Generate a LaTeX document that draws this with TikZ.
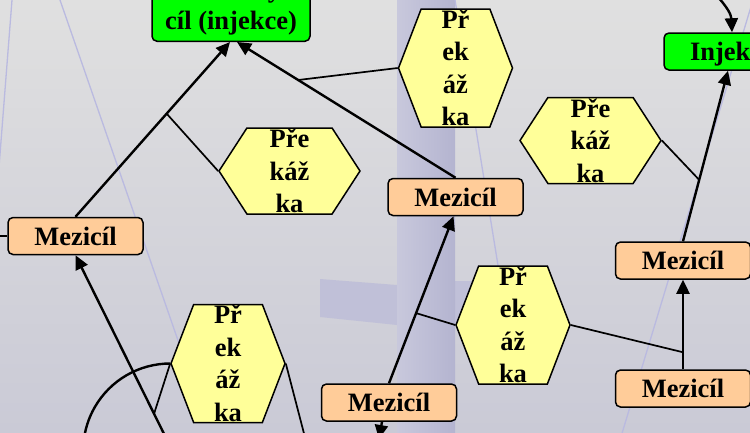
\documentclass[tikz,border=0pt]{standalone}
\usepackage{fontspec}
\setmainfont{Liberation Serif}
\usetikzlibrary{arrows.meta,shapes.symbols}
\definecolor{goalgreen}{RGB}{0, 255, 0}
\definecolor{subgoalpeach}{RGB}{255, 204, 153}
\definecolor{obstacleyellow}{RGB}{255, 255, 153}
\definecolor{bgtop}{RGB}{224, 224, 224}
\definecolor{bgbottom}{RGB}{202, 202, 214}
\definecolor{bandleft}{RGB}{200, 200, 220}
\definecolor{bandright}{RGB}{180, 180, 208}
\definecolor{bandarm}{RGB}{192, 192, 216}
\definecolor{bgstroke}{RGB}{186, 186, 224}
\tikzset{
  boxnode/.style={draw=black, line width=1.5pt, rounded corners=5pt, align=center, font=\fontsize{26.5}{32.5}\selectfont\bfseries},
  goalbox/.style={boxnode, fill=goalgreen, inner sep=6pt, minimum width=158pt},
  subgoal/.style={boxnode, fill=subgoalpeach, inner sep=0pt, minimum width=135pt, minimum height=37pt},
  obstacle/.style={draw=black, line width=1.5pt, fill=obstacleyellow, shape=signal, signal to=east and west, inner sep=0pt, align=center, font=\fontsize{26.5}{32.5}\selectfont\bfseries},
  obstacletall/.style={obstacle, signal pointer angle=138, minimum width=114pt, minimum height=118pt},
  obstaclewide/.style={obstacle, signal pointer angle=114, minimum width=141pt, minimum height=86pt},
  arrow/.style={line width=2.4pt, -{Triangle[length=14pt, width=13pt]}},
  link/.style={line width=1.7pt},
  bgline/.style={draw=bgstroke, line width=1.3pt}
}

\begin{document}
\begin{tikzpicture}[x=1pt, y=-1pt]
  \useasboundingbox (0,0) rectangle (750,432);
  \clip (0,0) rectangle (750,432);
  % background
  \shade [top color=bgtop, bottom color=bgbottom] (0,0) rectangle (750,432);
  \fill [bandarm] (320,279) -- (397,285) -- (397,325) -- (320,317) -- cycle;
  \fill [bandarm] (455,281) rectangle (480,325);
  \shade [left color=bandleft, right color=bandright] (397,0) rectangle (455,432);
  \draw [bgline] (12,0) -- (-2,180);
  \draw [bgline] (60,0) -- (190,375);
  \draw [bgline] (455,0) -- (502,290);
  \draw [bgline] (753,0) -- (620,440);

  % goals
  \node [goalbox, anchor=south] (goal) at (231,42) {Konečný\\cíl (injekce)};
  \node [goalbox, inner sep=0pt, minimum width=136pt, minimum height=37pt, text depth=0pt] (inj) at (732,51.5) {Injekce};

  % intermediate goals
  \node [subgoal] (m1) at (75.5,236) {Mezicíl};
  \node [subgoal] (m2) at (455.5,197) {Mezicíl};
  \node [subgoal] (m3) at (683,260.5) {Mezicíl};
  \node [subgoal] (m4) at (683,388.5) {Mezicíl};
  \node [subgoal] (m5) at (389,402.5) {Mezicíl};

  % obstacles
  \node [obstacletall] (h1) at (455.5,68) {Př\\ek\\áž\\ka};
  \node [obstaclewide] (h2) at (590.5,140.5) {Pře\\káž\\ka};
  \node [obstaclewide] (h3) at (289.5,171) {Pře\\káž\\ka};
  \node [obstacletall] (h4) at (228,363.5) {Př\\ek\\áž\\ka};
  \node [obstacletall] (h5) at (513,325) {Př\\ek\\áž\\ka};

  % ends outside the frame
  \coordinate (m1in) at (-20,236);
  \coordinate (m1src) at (172,450);
  \coordinate (m5out) at (379,439);
  \coordinate (h4out) at (307,445);
  \coordinate (injsrc) at (695,-25);

  % arrows
  \draw [arrow] (m1.north) -- ([xshift=-1pt]goal.south) coordinate[pos=0.59] (a1);
  \draw [arrow] (m2.north) -- ([xshift=6pt]goal.south) coordinate[pos=0.72] (a2);
  \draw [arrow] (m5.north) -- ([xshift=-2pt]m2.south) coordinate[pos=0.42] (a3);
  \draw [arrow] (m4.north) -- (m3.south) coordinate[pos=0.19] (a4);
  \draw [arrow] (m3.north) -- ([xshift=-4pt]inj.south) coordinate[pos=0.36] (a5);
  \draw [arrow] (m1src) -- (m1.south) coordinate[pos=0.186] (a6);
  \draw [arrow] ([xshift=-7pt]m5.south) -- (m5out);
  \draw [arrow] (injsrc) .. controls (715,-8) and (731,10) .. (inj.north);
  \draw [link] (m1in) -- (m1.west);

  % obstacles against the arrows
  \draw [link] (h3.west) -- (a1);
  \draw [link] (h1.west) -- (a2);
  \draw [link] (h5.west) -- (a3);
  \draw [link] (h5.east) -- (a4);
  \draw [link] (h2.east) -- (a5);
  \draw [link] (h4.west) -- (a6);
  \draw [link] (h4.east) -- (h4out);
  \draw [line width=2.4pt] (h4.west) arc[start angle=90, end angle=200, radius=87pt];
\end{tikzpicture}
\end{document}
